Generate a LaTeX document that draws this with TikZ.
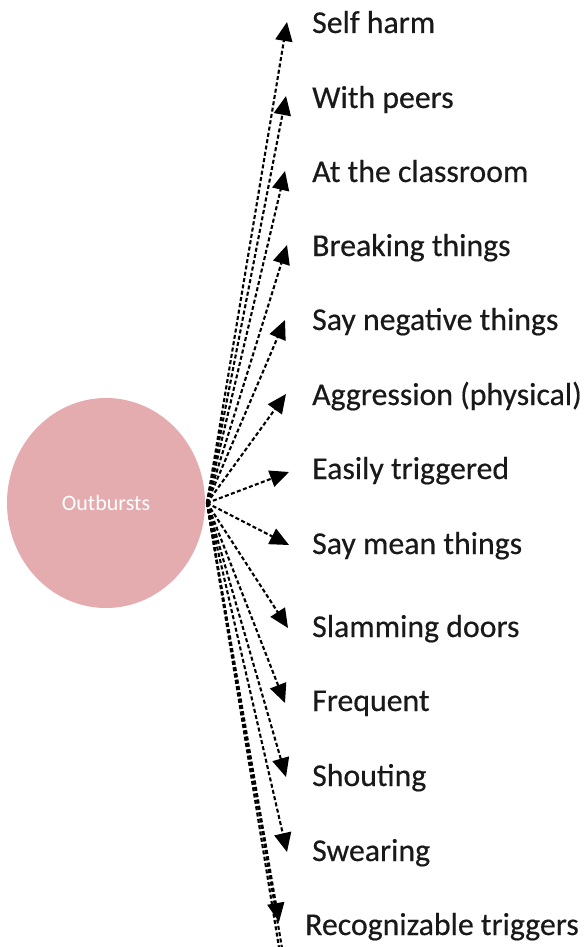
\documentclass[tikz,border=0pt]{standalone}
\usepackage{fontspec}
\setmainfont{Carlito}
\newfontfamily\labelfont[FakeBold=0.4]{Carlito}
\usetikzlibrary{arrows.meta,shapes.geometric}
\definecolor{bubble}{RGB}{229,172,176}
\tikzset{
  link/.style={line width=2.1pt, dash pattern=on 4pt off 2.4pt,
    -{Triangle[length=19pt,width=17pt]}},
  tail/.style={line width=2.1pt, dash pattern=on 4pt off 2.4pt},
  item/.style={anchor=base west, inner sep=0pt, text=black!90,
    font=\labelfont\fontsize{31.8}{34}\selectfont}
}
\begin{document}
\begin{tikzpicture}[x=1pt,y=-1pt]
\useasboundingbox (0,0) rectangle (585,947);
\fill[white] (0,0) rectangle (585,947);
\begin{scope}
\clip (0,0) rectangle (585,947);
% central bubble
\node[ellipse, fill=bubble, minimum width=198pt, minimum height=210pt, inner sep=0pt,
      font=\fontsize{22}{24}\selectfont, text=white] (hub) at (106,503) {Outbursts};
\coordinate (o) at (207,503);

% labels
\node[item] (l1)  at (312,33)  {Self harm};
\node[item] (l2)  at (312,108) {With peers};
\node[item] (l3)  at (312,182) {At the classroom};
\node[item] (l4)  at (312,256) {Breaking things};
\node[item] (l5)  at (312,330) {Say negative things};
\node[item] (l6)  at (312,405) {Aggression (physical)};
\node[item] (l7)  at (312,479) {Easily triggered};
\node[item] (l8)  at (312,554) {Say mean things};
\node[item] (l9)  at (312,637) {Slamming doors};
\node[item] (l10) at (312,711) {Frequent};
\node[item] (l11) at (312,786) {Shouting};
\node[item] (l12) at (312,861) {Swearing};
\node[item] (l13) at (305,935) {Recognizable triggers};

% arrow tips beside the labels
\coordinate (t1)  at (287,22);
\coordinate (t2)  at (286,96);
\coordinate (t3)  at (285,171);
\coordinate (t4)  at (287,245);
\coordinate (t5)  at (285,320);
\coordinate (t6)  at (286,394);
\coordinate (t7)  at (289,472);
\coordinate (t8)  at (289,545);
\coordinate (t9)  at (288,628);
\coordinate (t10) at (285,703);
\coordinate (t11) at (286,777);
\coordinate (t12) at (287,852);
\coordinate (t13) at (279,922);
\coordinate (e1)  at (281,960);
\coordinate (e2)  at (284,960);

\foreach \i in {1,...,13} \draw[link] (o) -- (t\i);
\draw[tail] (o) -- (e1);
\draw[tail] (o) -- (e2);
\end{scope}
\end{tikzpicture}
\end{document}
